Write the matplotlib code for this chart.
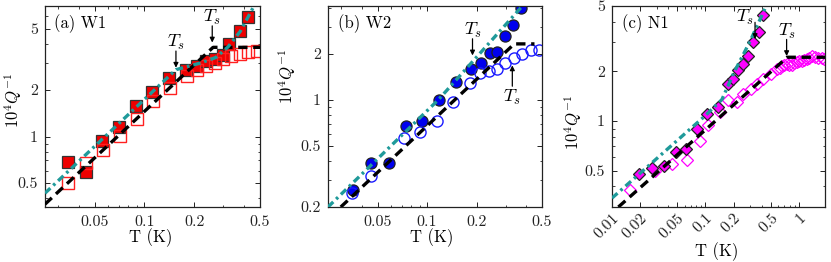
import numpy as np
import matplotlib
matplotlib.use("Agg")
import matplotlib.pyplot as plt
from matplotlib.ticker import FixedLocator, LogLocator, NullFormatter

plt.rcParams['font.family'] = 'serif'
plt.rcParams['font.serif'] = ['cmr10', 'DejaVu Serif']
plt.rcParams['mathtext.fontset'] = 'cm'
plt.rcParams['axes.formatter.use_mathtext'] = True

# ---- panel (a) W1 ----
a_T_fill = [0.0345, 0.0441, 0.0553, 0.0697, 0.0883, 0.111, 0.1415, 0.178, 0.207, 0.235, 0.266, 0.300, 0.325, 0.377, 0.425]
a_Q_fill = [0.68, 0.593, 0.93, 1.16, 1.58, 1.94, 2.40, 2.68, 2.85, 3.07, 3.20, 3.35, 3.98, 4.81, 5.96]
a_T_open = [0.0345, 0.0441, 0.0561, 0.0707, 0.0899, 0.113, 0.143, 0.180, 0.209, 0.235, 0.268, 0.299, 0.336, 0.377, 0.425, 0.48]
a_Q_open = [0.50, 0.67, 0.82, 1.01, 1.30, 1.69, 2.06, 2.48, 2.68, 2.85, 3.00, 3.18, 3.31, 3.43, 3.51, 3.56]
a_fit_T = [0.025, 0.155, 0.22, 0.27, 0.32, 0.38, 0.46]      # dash-dot (filled)
a_fit_Q = [0.43, 2.71, 3.0, 3.25, 3.8, 4.8, 7.0]
a_dash_T = [0.025, 0.26, 0.5]                               # dashed (open)
a_dash_Q = [0.365, 3.78, 3.78]
a_Ts = [0.155, 0.257]
a_Ts_Q = [2.79, 4.06]

# ---- panel (b) W2 ----
b_T_fill = [0.0355, 0.0458, 0.0585, 0.0745, 0.0937, 0.118, 0.149, 0.186, 0.214, 0.240, 0.267, 0.298, 0.334, 0.375]
b_Q_fill = [0.26, 0.39, 0.39, 0.68, 0.73, 1.0, 1.30, 1.58, 1.73, 2.03, 2.05, 2.6, 3.06, 3.99]
b_T_open = [0.0352, 0.0454, 0.0720, 0.0907, 0.1144, 0.144, 0.1815, 0.211, 0.237, 0.267, 0.298, 0.336, 0.380, 0.427, 0.478]
b_Q_open = [0.245, 0.317, 0.565, 0.62, 0.725, 0.965, 1.28, 1.49, 1.54, 1.59, 1.74, 1.88, 1.98, 2.12, 2.12]
b_fit_T = [0.025, 0.117, 0.38]
b_fit_Q = [0.20, 1.0, 4.1]
b_dash_T = [0.0299, 0.339, 0.45]
b_dash_Q = [0.20, 2.32, 2.32]
b_Ts = [0.189, 0.33]
b_Ts_Q = [1.95, 1.68]

# ---- panel (c) N1 ----
c_T_fill = [0.0196, 0.0266, 0.036, 0.0483, 0.0618, 0.0817, 0.1045, 0.137, 0.175, 0.198, 0.224, 0.254, 0.287, 0.325, 0.376, 0.415]
c_Q_fill = [0.473, 0.52, 0.53, 0.647, 0.68, 0.90, 1.11, 1.21, 1.67, 1.81, 2.04, 2.22, 2.47, 3.0, 3.49, 4.41]
c_T_open = [0.0156, 0.0288, 0.0435, 0.0638, 0.0873, 0.107, 0.143, 0.175, 0.216, 0.254, 0.304, 0.353, 0.415, 0.498, 0.577,
            0.62, 0.653, 0.70, 0.737, 0.79, 0.836, 0.89, 0.944, 1.0, 1.07, 1.14, 1.21, 1.29, 1.37, 1.48, 1.61, 1.75, 1.85]
c_Q_open = [0.38, 0.495, 0.545, 0.578, 0.755, 0.94, 1.13, 1.34, 1.30, 1.45, 1.56, 1.67, 1.80, 1.93, 2.07,
            2.10, 2.16, 2.18, 2.22, 2.20, 2.20, 2.24, 2.27, 2.30, 2.32, 2.35, 2.38, 2.42, 2.49, 2.45, 2.43, 2.40, 2.38]
c_fit_T = [0.01, 0.03, 0.1, 0.15, 0.2, 0.3, 0.46]
c_fit_Q = [0.34, 0.59, 1.08, 1.35, 1.95, 3.05, 5.2]
c_dash_T = [0.0117, 0.75, 1.9]
c_dash_Q = [0.30, 2.44, 2.44]
c_Ts = [0.339, 0.738]
c_Ts_Q = [3.15, 2.48]

teal = '#1f9a9a'
dash_style = (0, (2.8, 1.7))
dashdot_style = (0, (2.2, 1.2, 0.8, 1.2))

fig = plt.figure(figsize=(8.31, 2.62), dpi=100)
axA = fig.add_axes([45/831, 55/262, 215/831, 201/262])
axB = fig.add_axes([328/831, 55/262, 214/831, 201/262])
axC = fig.add_axes([612/831, 55/262, 213/831, 201/262])


def setup(ax, xlim, ylim, xt, xtl, yt, ytl):
    ax.set_xscale('log')
    ax.set_yscale('log')
    ax.set_xlim(xlim)
    ax.set_ylim(ylim)
    ax.xaxis.set_major_locator(FixedLocator(xt))
    ax.set_xticklabels(xtl)
    ax.yaxis.set_major_locator(FixedLocator(yt))
    ax.set_yticklabels(ytl)
    ax.xaxis.set_minor_locator(LogLocator(subs=np.arange(1, 10)))
    ax.yaxis.set_minor_locator(LogLocator(subs=np.arange(1, 10)))
    ax.xaxis.set_minor_formatter(NullFormatter())
    ax.yaxis.set_minor_formatter(NullFormatter())
    ax.tick_params(which='both', direction='in', top=True, right=True, labelsize=11.5, colors='#222222')
    ax.tick_params(which='major', length=3.5, width=0.7)
    ax.tick_params(which='minor', length=1.8, width=0.6)
    ax.tick_params(axis='x', which='major', pad=6)
    ax.tick_params(axis='y', which='major', pad=5)
    for s in ax.spines.values():
        s.set_linewidth(0.9)
        s.set_color('#222222')
    ax.set_xlabel('T (K)', fontsize=12)
    ax.set_ylabel(r'$10^4Q^{-1}$', fontsize=12)


def ts_arrow(ax, x, y, up=False, dx=0, dy=11):
    # little arrow + T_s label marking the transition temperature
    if not up:
        ax.annotate('', xy=(x, y), xytext=(0, 12), textcoords='offset points',
                    arrowprops=dict(arrowstyle='-|>', color='k', lw=0.9, mutation_scale=7, shrinkA=0, shrinkB=0))
        ax.annotate('$T_s$', xy=(x, y), xytext=(dx, dy), textcoords='offset points',
                    ha='center', va='bottom', fontsize=13)
    else:
        ax.annotate('', xy=(x, y), xytext=(0, -15), textcoords='offset points',
                    arrowprops=dict(arrowstyle='-|>', color='k', lw=0.9, mutation_scale=7, shrinkA=0, shrinkB=0))
        ax.annotate('$T_s$', xy=(x, y), xytext=(dx, -16), textcoords='offset points',
                    ha='center', va='top', fontsize=13)


# (a)
setup(axA, (0.025, 0.5), (0.35, 7.0), [0.05, 0.1, 0.2, 0.5], ['0.05', '0.1', '0.2', '0.5'],
      [0.5, 1, 2, 5], ['0.5', '1', '2', '5'])
axA.plot(a_T_fill, a_Q_fill, 's', ms=8, mfc='#ee0000', mec='#333333', mew=0.9, zorder=2)
axA.plot(a_T_open, a_Q_open, 's', ms=8, mfc='none', mec='#ff2020', mew=1.0, zorder=2)
axA.plot(a_dash_T, a_dash_Q, color='k', lw=2.4, ls=dash_style, zorder=3)
axA.plot(a_fit_T, a_fit_Q, color=teal, lw=2.4, ls=dashdot_style, zorder=3)
ts_arrow(axA, a_Ts[0], a_Ts_Q[0])
ts_arrow(axA, a_Ts[1], a_Ts_Q[1])
axA.text(0.04, 0.91, '(a) W1', transform=axA.transAxes, va='center', fontsize=12)
axA.xaxis.set_label_coords(0.49, -0.105)
axA.yaxis.set_label_coords(-0.098, 0.53)

# (b)
setup(axB, (0.025, 0.5), (0.2, 4.1), [0.05, 0.1, 0.2, 0.5], ['0.05', '0.1', '0.2', '0.5'],
      [0.2, 0.5, 1, 2], ['0.2', '0.5', '1', '2'])
axB.plot(b_T_fill, b_Q_fill, 'o', ms=8, mfc='#0000ee', mec='#222222', mew=0.9, zorder=2)
axB.plot(b_T_open, b_Q_open, 'o', ms=8, mfc='none', mec='#1a1aff', mew=1.0, zorder=2)
axB.plot(b_dash_T, b_dash_Q, color='k', lw=2.4, ls=dash_style, zorder=3)
axB.plot(b_fit_T, b_fit_Q, color=teal, lw=2.4, ls=dashdot_style, zorder=3)
ts_arrow(axB, b_Ts[0], b_Ts_Q[0])
ts_arrow(axB, b_Ts[1], b_Ts_Q[1], up=True)
axB.text(0.047, 0.91, '(b) W2', transform=axB.transAxes, va='center', fontsize=12)
axB.xaxis.set_label_coords(0.486, -0.105)
axB.yaxis.set_label_coords(-0.14, 0.65)

# (c)
setup(axC, (0.01, 1.9), (0.3, 5.0), [0.01, 0.02, 0.05, 0.1, 0.2, 0.5, 1],
      ['0.01', '0.02', '0.05', '0.1', '0.2', '0.5', '1'],
      [0.5, 1, 2, 5], ['0.5', '1', '2', '5'])
axC.tick_params(axis='x', which='major', pad=3)
for lab in axC.get_xticklabels():
    lab.set_rotation(45)
    lab.set_ha('right')
    lab.set_rotation_mode('anchor')
axC.plot(c_T_open, c_Q_open, 'D', ms=6.5, mfc='none', mec='#ff00ff', mew=0.9, zorder=2)
axC.plot(c_T_fill, c_Q_fill, 'D', ms=6.5, mfc='#ff00ff', mec='#222222', mew=0.9, zorder=2)
axC.plot(c_dash_T, c_dash_Q, color='k', lw=2.4, ls=dash_style, zorder=3)
axC.plot(c_fit_T, c_fit_Q, color=teal, lw=2.4, ls=dashdot_style, zorder=3)
ts_arrow(axC, c_Ts[0], c_Ts_Q[0], dx=-7, dy=9)
ts_arrow(axC, c_Ts[1], c_Ts_Q[1])
axC.text(0.047, 0.91, '(c) N1', transform=axC.transAxes, va='center', fontsize=12)
axC.xaxis.set_label_coords(0.49, -0.175)
axC.yaxis.set_label_coords(-0.131, 0.42)

fig.savefig('out.png', dpi=100)
